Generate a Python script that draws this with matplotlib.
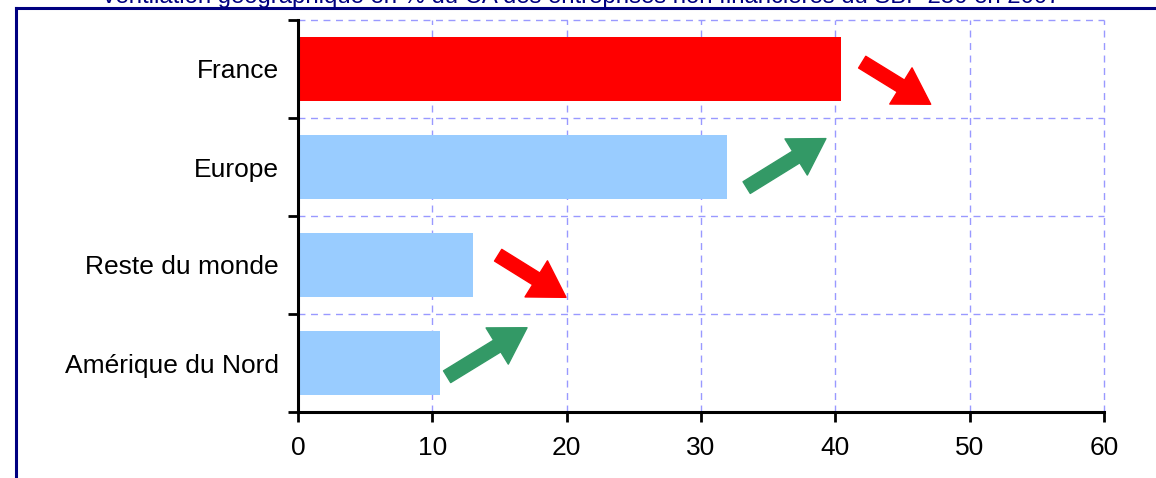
import matplotlib.pyplot as plt
from matplotlib.lines import Line2D

plt.rcParams['font.family'] = ['Liberation Sans', 'DejaVu Sans']

# Répartition du CA par zone (en %)
zones = ["Amérique du Nord", "Reste du monde", "Europe", "France"]
parts = [10.6, 13.0, 31.9, 40.4]
bar_colors = ["#99CCFF", "#99CCFF", "#99CCFF", "#FF0000"]
x_ticks = [0, 10, 20, 30, 40, 50, 60]

# Tendances : (départ, arrivée) en coordonnées des données
trend_arrows = [
    ((42.0, 3.07), (47.1, 2.64), "#FF0000"),
    ((33.4, 1.79), (39.3, 2.29), "#339966"),
    ((14.9, 1.10), (19.95, 0.67), "#FF0000"),
    ((11.1, -0.14), (17.05, 0.36), "#339966"),
]

title = "Ventilation géographique en % du CA des entreprises non financières du SBF 250 en 2007"

fig = plt.figure(figsize=(11.56, 4.78), dpi=100)
ax = fig.add_axes([298 / 1156, 1 - 412 / 478, (1104 - 298) / 1156, (412 - 20) / 478])

pos = list(range(len(zones)))
ax.barh(pos, parts, height=0.66, color=bar_colors, zorder=3)

ax.set_xlim(0, 60)
ax.set_ylim(-0.5, len(zones) - 0.5)

# grille pointillée
for x in x_ticks[1:]:
    ax.axvline(x, color="#9999FF", ls=(0, (5, 4)), lw=1, zorder=1, clip_on=False)
for y in [p + 0.5 for p in pos]:
    ax.axhline(y, color="#9999FF", ls=(0, (5, 4)), lw=1, zorder=1, clip_on=False)

ax.spines[["top", "right"]].set_visible(False)
for s in ["left", "bottom"]:
    ax.spines[s].set_linewidth(2.2)
    ax.spines[s].set_zorder(4)

ax.set_xticks(x_ticks)
ax.tick_params(axis="x", direction="out", length=7, width=2, labelsize=19, pad=10)
ax.set_yticks(pos)
ax.set_yticklabels(zones)
ax.tick_params(axis="y", which="major", length=0, labelsize=19, pad=14)
ax.set_yticks([p - 0.5 for p in pos] + [len(zones) - 0.5], minor=True)
ax.tick_params(axis="y", which="minor", direction="out", length=7, width=2)

for (x0, y0), (x1, y1), c in trend_arrows:
    ax.annotate("", xy=(x1, y1), xytext=(x0, y0),
                arrowprops=dict(arrowstyle="simple,head_length=1.4,head_width=1.7,tail_width=0.55",
                                mutation_scale=18, color=c, shrinkA=0, shrinkB=0),
                zorder=5)

# cadre et titre
fig.add_artist(Line2D([16 / 1156, 1], [1 - 8 / 478, 1 - 8 / 478], color="#000080", lw=2.2))
fig.add_artist(Line2D([16 / 1156, 16 / 1156], [0, 1 - 8 / 478], color="#000080", lw=2.2))
fig.text(581 / 1156, 1 - 3 / 478, title, ha="center", va="baseline", color="#000080", fontsize=17.2)

fig.savefig("out.png", dpi=100)
